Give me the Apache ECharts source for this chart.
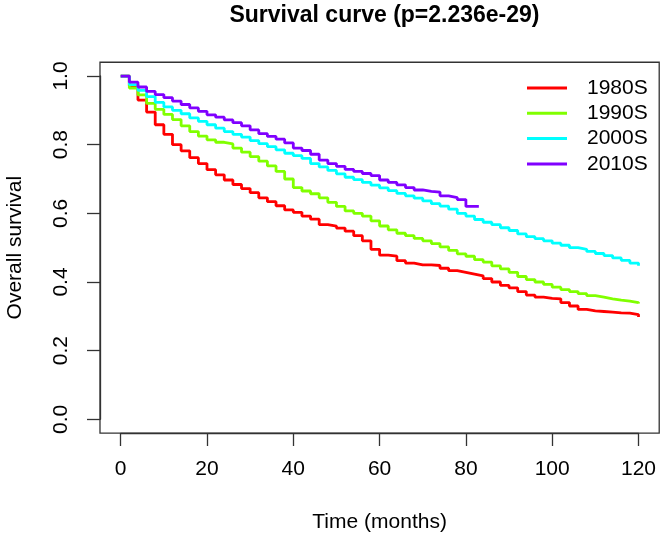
<!DOCTYPE html>
<html>
<head>
<meta charset="utf-8">
<script src="https://cdn.jsdelivr.net/npm/echarts@6/dist/echarts.min.js"></script>
<style>
html,body{margin:0;padding:0;background:#fff;}
#chart{width:661px;height:536px;}
</style>
</head>
<body>
<div id="chart"></div>
<script>
// ---- data ----
const titleText = "Survival curve (p=2.236e-29)";
const xName = "Time (months)";
const yName = "Overall survival";
const groupNames = ["1980S", "1990S", "2000S", "2010S"];
const xTicks = [0, 20, 40, 60, 80, 100, 120];
const yTicks = [0.0, 0.2, 0.4, 0.6, 0.8, 1.0];

const months = [0,2,4,6,8,10,12,14,16,18,20,22,24,26,28,30,32,34,36,38,40,42,44,46,48,50,52,54,56,58,60,62,64,66,68,70,72,74,76,78,80,82,84,86,88,90,92,94,96,98,100,102,104,106,108,110,112,114,116,118,120];
const months2010 = [0,2,4,6,8,10,12,14,16,18,20,22,24,26,28,30,32,34,36,38,40,42,44,46,48,50,52,54,56,58,60,62,64,66,68,70,72,74,76,78,80,82,83];

const surv1980 = [1.0,0.97,0.93,0.895,0.858,0.83,0.80,0.782,0.762,0.745,0.727,0.712,0.697,0.684,0.672,0.66,0.645,0.634,0.622,0.61,0.603,0.592,0.583,0.567,0.563,0.557,0.548,0.535,0.52,0.495,0.478,0.475,0.462,0.455,0.45,0.45,0.448,0.44,0.433,0.428,0.423,0.418,0.41,0.40,0.39,0.383,0.372,0.362,0.356,0.352,0.351,0.34,0.33,0.32,0.316,0.314,0.312,0.31,0.309,0.305,0.298];
const surv1990 = [1.0,0.965,0.945,0.92,0.903,0.888,0.873,0.855,0.838,0.825,0.814,0.807,0.802,0.79,0.778,0.765,0.752,0.738,0.722,0.70,0.675,0.665,0.657,0.645,0.632,0.62,0.607,0.60,0.592,0.578,0.563,0.552,0.542,0.535,0.527,0.52,0.512,0.502,0.492,0.482,0.475,0.465,0.458,0.447,0.438,0.428,0.416,0.407,0.40,0.393,0.385,0.378,0.372,0.366,0.36,0.356,0.351,0.347,0.344,0.34,0.337];
const surv2000 = [1.0,0.975,0.958,0.94,0.923,0.91,0.90,0.89,0.878,0.868,0.858,0.848,0.838,0.83,0.822,0.812,0.803,0.794,0.785,0.775,0.768,0.76,0.745,0.735,0.725,0.715,0.705,0.698,0.69,0.682,0.674,0.666,0.658,0.651,0.644,0.636,0.628,0.621,0.612,0.60,0.592,0.582,0.574,0.567,0.558,0.55,0.54,0.532,0.526,0.52,0.513,0.507,0.50,0.495,0.489,0.483,0.477,0.47,0.463,0.455,0.447];
const surv2010 = [1.0,0.982,0.968,0.955,0.946,0.937,0.927,0.917,0.907,0.897,0.887,0.88,0.872,0.864,0.855,0.843,0.832,0.824,0.816,0.805,0.79,0.783,0.772,0.755,0.745,0.737,0.728,0.722,0.716,0.71,0.697,0.69,0.683,0.675,0.668,0.664,0.662,0.651,0.646,0.64,0.62,0.62,0.62];

const colors = ["#FF0000", "#80FF00", "#00FFFF", "#8000FF"];

// ---- build ----
function pairs(xs, ys){ return xs.map((x,i)=>[x, ys[i]]); }
const seriesData = [
  pairs(months, surv1980),
  pairs(months, surv1990),
  pairs(months, surv2000),
  pairs(months2010, surv2010)
];

const FONT = "Liberation Sans, Arial, Helvetica, sans-serif";
const chart = echarts.init(document.getElementById('chart'), null, {renderer:'canvas'});

const option = {
  backgroundColor: '#ffffff',
  animation: false,
  title: {
    text: titleText,
    left: 379.5, top: -1, textAlign: 'center',
    textStyle: {fontFamily: FONT, fontWeight: 'bold', fontSize: 23, color: '#000'}
  },
  legend: {
    orient: 'vertical',
    left: 522, top: 72,
    itemWidth: 40, itemHeight: 3, itemGap: 3.3,
    icon: 'rect',
    data: groupNames,
    textStyle: {fontFamily: FONT, fontSize: 21, color: '#000', lineHeight: 22, padding: [0,0,0,15]}
  },
  grid: {left: 120.7, right: 22.5, top: 76, bottom: 116.7, containLabel: false, outerBoundsMode: 'none'},
  xAxis: {
    type: 'value', min: xTicks[0], max: xTicks[xTicks.length-1], interval: 20,
    offset: 13.72,
    name: xName, nameLocation: 'middle', nameGap: 79,
    nameTextStyle: {fontFamily: FONT, fontSize: 21, color: '#000'},
    axisLine: {show: true, onZero: false, lineStyle: {color: '#333', width: 1.3}},
    axisTick: {show: true, length: 13, lineStyle: {color: '#333', width: 1.3}},
    axisLabel: {margin: 26, fontFamily: FONT, fontSize: 21, color: '#000'},
    splitLine: {show: false}
  },
  yAxis: {
    type: 'value', min: yTicks[0], max: yTicks[yTicks.length-1], interval: 0.2,
    offset: 20.7,
    name: yName, nameLocation: 'middle', nameGap: 74, nameRotate: 90,
    nameTextStyle: {fontFamily: FONT, fontSize: 21, color: '#000'},
    axisLine: {show: true, onZero: false, lineStyle: {color: '#333', width: 1.3}},
    axisTick: {show: true, length: 13, lineStyle: {color: '#333', width: 1.3}},
    axisLabel: {margin: 28, rotate: 90, fontFamily: FONT, fontSize: 21, color: '#000',
      formatter: v => v.toFixed(1)},
    splitLine: {show: false}
  },
  series: groupNames.map((n, i) => ({
    name: n, type: 'line', step: 'end', showSymbol: false, symbol: 'none',
    data: seriesData[i], color: colors[i],
    lineStyle: {color: colors[i], width: 2.8},
    z: 2 + i
  }))
};
chart.setOption(option);

// plot frame (R box): data range extended by 4% like R's default
const p1 = chart.convertToPixel({gridIndex: 0}, [-4.8, 1.04]);
const p2 = chart.convertToPixel({gridIndex: 0}, [124.8, -0.04]);
chart.setOption({
  graphic: [{
    type: 'rect', silent: true, z: 10,
    shape: {x: p1[0], y: p1[1], width: p2[0]-p1[0], height: p2[1]-p1[1]},
    style: {fill: 'none', stroke: '#333', lineWidth: 1.3}
  }]
});
</script>
</body>
</html>
